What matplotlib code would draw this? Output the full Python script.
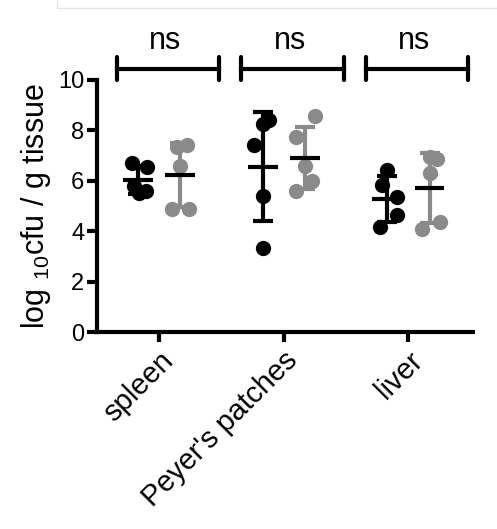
import numpy as np
import matplotlib.pyplot as plt
from matplotlib.lines import Line2D

plt.rcParams["font.family"] = ["Liberation Sans", "DejaVu Sans"]
plt.rcParams["mathtext.fontset"] = "custom"
plt.rcParams["mathtext.rm"] = "Liberation Sans"
plt.rcParams["mathtext.it"] = "Liberation Sans"

categories = ["spleen", "Peyer's patches", "liver"]
group_a = [
    [6.7, 6.55, 5.8, 5.6, 5.5],
    [8.4, 8.25, 7.4, 5.4, 3.33],
    [6.43, 5.83, 5.36, 4.64, 4.17],
]
group_b = [
    [7.35, 7.4, 6.6, 4.9, 4.9],
    [8.55, 7.75, 6.6, 6.0, 5.6],
    [6.85, 6.95, 6.3, 4.35, 4.1],
]
sig_labels = ["ns", "ns", "ns"]

jitter_a = [
    [-0.05, 0.07, -0.03, 0.06, 0.01],
    [0.05, 0.0, -0.07, 0.0, 0.0],
    [0.0, -0.04, 0.08, 0.08, -0.06],
]
jitter_b = [
    [-0.03, 0.05, 0.0, -0.07, 0.07],
    [0.08, -0.07, 0.0, 0.06, -0.07],
    [0.06, 0.0, 0.0, 0.08, -0.06],
]

black = "#000000"
grey = "#8a8a8a"
offset = 0.17

fig = plt.figure(figsize=(4.97, 5.29), dpi=100)
ax = fig.add_axes([0.195, 0.372, 0.757, 0.477])

for i in range(len(categories)):
    for vals, jit, color, sign in ((group_a[i], jitter_a[i], black, -1),
                                   (group_b[i], jitter_b[i], grey, 1)):
        vals = np.array(vals)
        xc = i + sign * offset
        ax.plot(xc + np.array(jit), vals, "o", color=color, markersize=11,
                markeredgewidth=0, zorder=3, clip_on=False)
        m = vals.mean()
        sd = vals.std(ddof=1)
        ax.errorbar(xc, m, yerr=sd, color=color, elinewidth=3, capsize=7,
                    capthick=3, fmt="none", zorder=4)
        ax.plot([xc - 0.12, xc + 0.12], [m, m], color=black, lw=3,
                solid_capstyle="butt", zorder=5)

# significance brackets
for i, lab in enumerate(sig_labels):
    x0, x1 = i - 0.34, i + 0.48
    y = 10.45
    ax.plot([x0, x1], [y, y], color=black, lw=3, clip_on=False)
    for xe in (x0, x1):
        ax.plot([xe, xe], [y - 0.45, y + 0.45], color=black, lw=3,
                solid_capstyle="round", clip_on=False)
    ax.text((x0 + x1) / 2 - 0.02, y + 0.5, lab, ha="center", va="bottom",
            fontsize=22)

ax.set_xlim(-0.5, 2.52)
ax.set_ylim(0, 10)
ax.set_yticks([0, 2, 4, 6, 8, 10])
ax.set_xticks(range(len(categories)))
ax.set_xticklabels(categories, rotation=45, ha="right",
                   rotation_mode="anchor", fontsize=21)
ax.tick_params(axis="both", width=3, length=7, pad=3)
ax.tick_params(axis="y", labelsize=17, pad=2)
ax.set_ylabel("log $_{10}$cfu / g tissue", fontsize=22, labelpad=4)
for s in ("top", "right"):
    ax.spines[s].set_visible(False)
for s in ("left", "bottom"):
    ax.spines[s].set_linewidth(3)

# faint frame at the top of the screenshot
W, H = 497, 529
fig.add_artist(Line2D([57 / W, 57 / W], [1, 1 - 7 / H], color="#e6e6e6",
                      lw=1, transform=fig.transFigure))
fig.add_artist(Line2D([57 / W, 1], [1 - 8 / H, 1 - 8 / H], color="#e6e6e6",
                      lw=1, transform=fig.transFigure))

fig.savefig("out.png", dpi=100)
